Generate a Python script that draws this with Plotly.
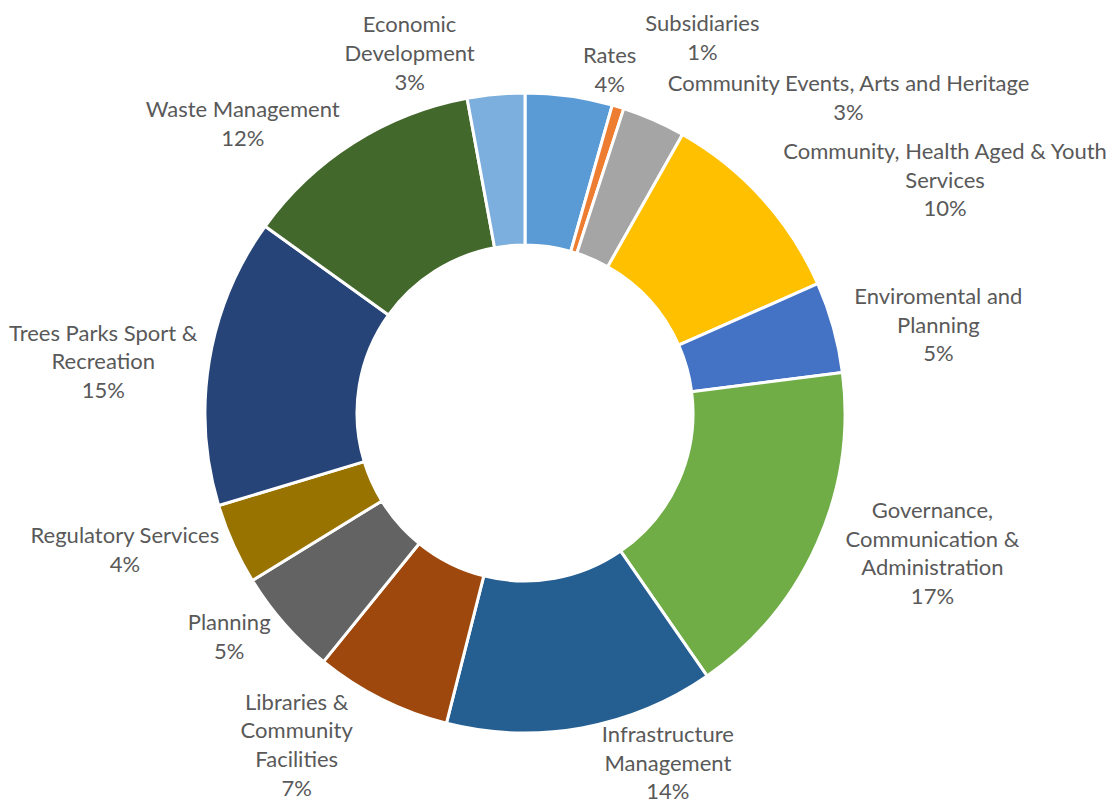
import plotly.graph_objects as go

labels = [
    "Rates",
    "Subsidiaries",
    "Community Events, Arts and Heritage",
    "Community, Health Aged & Youth<br>Services",
    "Enviromental and<br>Planning",
    "Governance,<br>Communication &<br>Administration",
    "Infrastructure<br>Management",
    "Libraries &<br>Community<br>Facilities",
    "Planning",
    "Regulatory Services",
    "Trees Parks Sport &<br>Recreation",
    "Waste Management",
    "Economic<br>Development",
]
values = [4.4, 0.6, 3.2, 10.2, 4.6, 17.4, 13.6, 6.9, 5.4, 4.1, 14.6, 12.2, 2.9]
colors = [
    "#5B9BD5", "#ED7D31", "#A5A5A5", "#FFC000", "#4472C4", "#70AD47",
    "#255E91", "#9E480E", "#636363", "#997300", "#264478", "#43682B", "#7CAFDD",
]

# layout of the doughnut (pixels) and label rings for labels that are placed
# on their own so they do not get pushed around by neighbouring labels
W, H = 1117, 809
CX, CY, R = 525, 413, 320
separate_label_rings = {
    "Rates": 1.0,
    "Subsidiaries": 1.144,
    "Infrastructure<br>Management": 0.98,
    "Trees Parks Sport &<br>Recreation": 0.97,
}


def domain_for(scale):
    r = R * scale
    return dict(
        x=[(CX - r) / W, (CX + r) / W],
        y=[(H - CY - r) / H, (H - CY + r) / H],
    )


total = sum(values)
full_text = [f"{lab}<br>{round(v / total * 100):.0f}%" for lab, v in zip(labels, values)]
main_text = [t if lab not in separate_label_rings else "" for t, lab in zip(full_text, labels)]

font = dict(family="Lato", size=22, color="#595959")

fig = go.Figure()
fig.add_trace(
    go.Pie(
        labels=labels,
        values=values,
        sort=False,
        direction="clockwise",
        rotation=0,
        hole=0.525,
        marker=dict(colors=colors, line=dict(color="white", width=3)),
        text=main_text,
        textinfo="text",
        textposition="outside",
        textfont=font,
        automargin=False,
        domain=domain_for(1.0),
        showlegend=False,
    )
)
for name, scale in separate_label_rings.items():
    fig.add_trace(
        go.Pie(
            labels=labels,
            values=values,
            sort=False,
            direction="clockwise",
            rotation=0,
            hole=0.525,
            marker=dict(colors=["rgba(0,0,0,0)"] * len(values), line=dict(width=0)),
            text=[t if lab == name else "" for t, lab in zip(full_text, labels)],
            textinfo="text",
            textposition="outside",
            textfont=font,
            automargin=False,
            domain=domain_for(scale),
            hoverinfo="skip",
            showlegend=False,
        )
    )
fig.update_layout(
    width=W,
    height=H,
    margin=dict(l=0, r=0, t=0, b=0, autoexpand=False),
    paper_bgcolor="white",
    plot_bgcolor="white",
)
fig.write_html("out.html")
